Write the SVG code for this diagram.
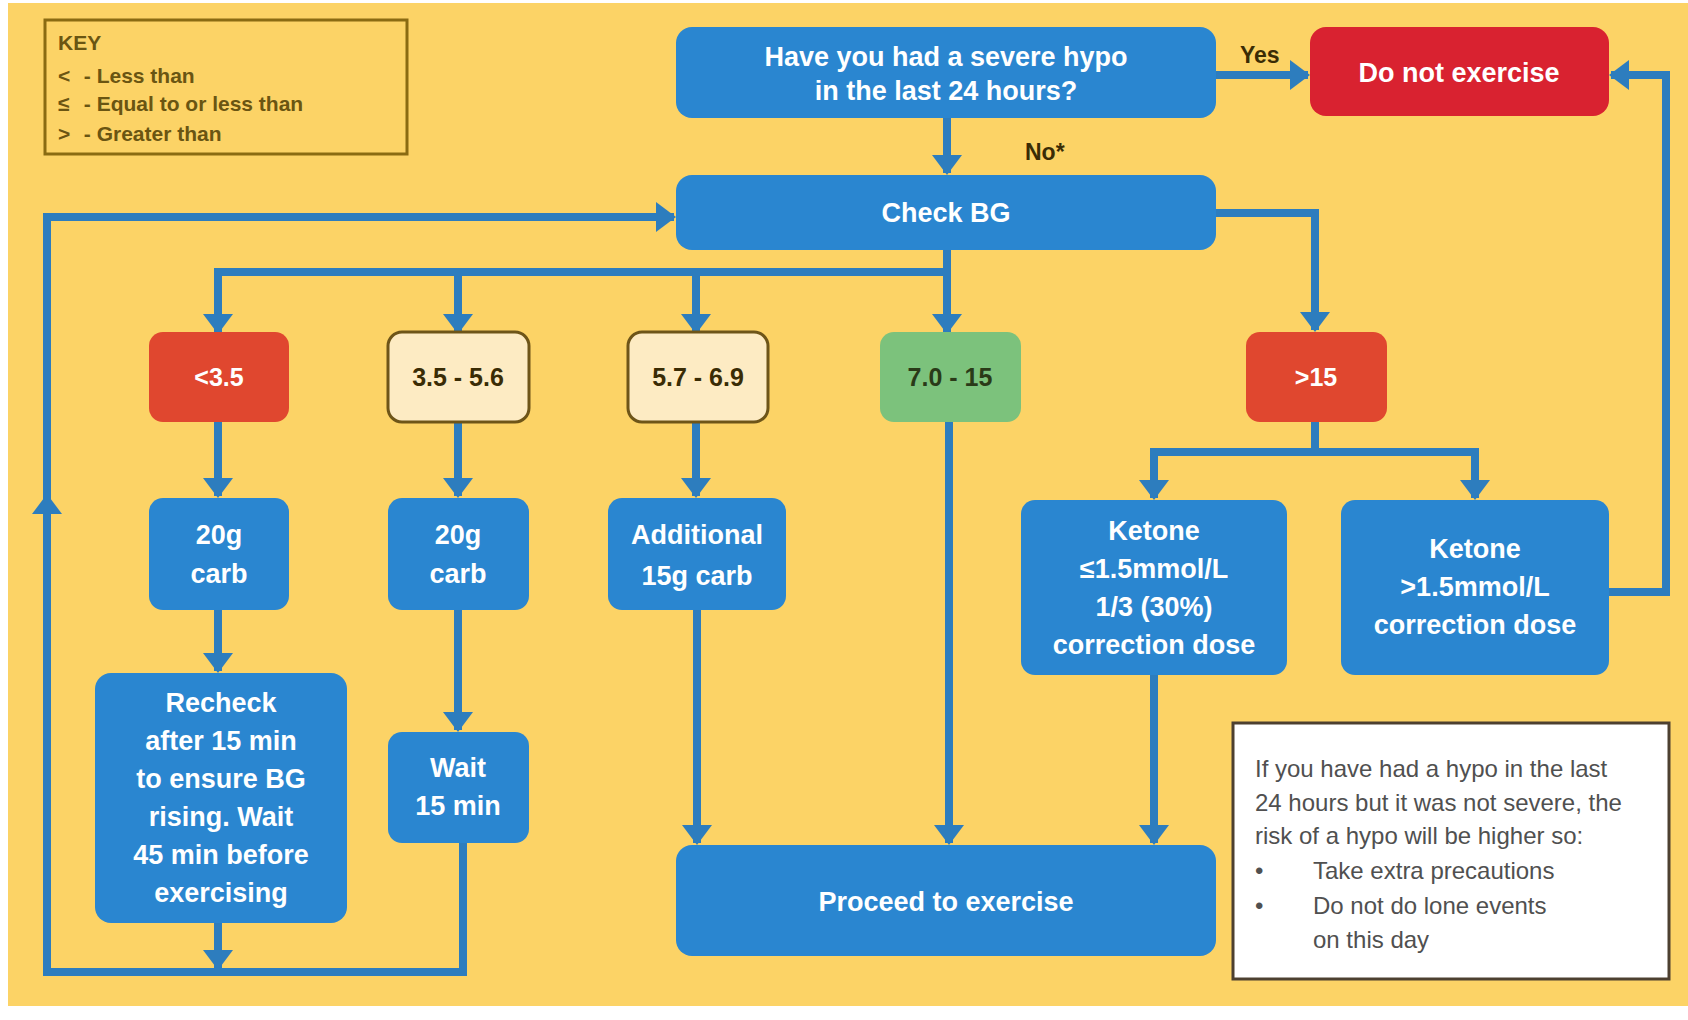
<svg xmlns="http://www.w3.org/2000/svg" width="1688" height="1020" viewBox="0 0 1688 1020">
<defs>
<style>
.bg{fill:#FCD366}
.blue{fill:#2A86D0}
.red{fill:#E0472F}
.dne{fill:#D92230}
.cream{fill:#FDEBC3;stroke:#6E5518;stroke-width:3}
.green{fill:#7CC27C}
.t{font-family:"Liberation Sans",Arial,sans-serif;font-weight:bold;font-size:27px;fill:#FFFFFF;text-anchor:middle}
.rt{font-family:"Liberation Sans",Arial,sans-serif;font-weight:bold;font-size:25px;text-anchor:middle}
.lbl{font-family:"Liberation Sans",Arial,sans-serif;font-weight:bold;font-size:23px;fill:#3A2C05}
.key{font-family:"Liberation Sans",Arial,sans-serif;font-weight:bold;font-size:21px;fill:#6A5512}
.note{font-family:"Liberation Sans",Arial,sans-serif;font-size:24px;fill:#505050}
.c{fill:none;stroke:#2D7DBE;stroke-width:8;stroke-linejoin:miter}
.ca{fill:none;stroke:#2D7DBE;stroke-width:8;marker-end:url(#ah)}
</style>
<marker id="ah" viewBox="0 0 10 10" preserveAspectRatio="none" refX="9" refY="5" markerUnits="userSpaceOnUse" markerWidth="20" markerHeight="30" orient="auto">
<path d="M0,0 L10,5 L0,10 z" fill="#2D7DBE"/>
</marker>
</defs>
<rect x="8" y="3" width="1680" height="1003" class="bg"/>

<g id="key">
<rect x="45" y="20" width="362" height="134" fill="none" stroke="#8A6B12" stroke-width="3"/>
<text class="key" x="58" y="50" font-size="17">KEY</text>
<text class="key" y="83"><tspan x="58">&lt;</tspan><tspan x="78"> - Less than</tspan></text>
<text class="key" y="111"><tspan x="58">≤</tspan><tspan x="78"> - Equal to or less than</tspan></text>
<text class="key" y="141"><tspan x="58">&gt;</tspan><tspan x="78"> - Greater than</tspan></text>
</g>

<g id="connectors">
<path class="ca" d="M947,118 V173"/>
<path class="ca" d="M1216,75 H1308"/>
<path class="c" d="M947,250 V272 M218,272 H951"/>
<path class="ca" d="M218,268 V332"/>
<path class="ca" d="M458,268 V332"/>
<path class="ca" d="M696,268 V332"/>
<path class="ca" d="M947,268 V332"/>
<path class="ca" d="M1216,213 H1315 V330"/>
<path class="ca" d="M218,422 V496"/>
<path class="ca" d="M458,422 V496"/>
<path class="ca" d="M696,422 V496"/>
<path class="ca" d="M949,422 V843"/>
<path class="c" d="M1315,422 V452 M1150,452 H1479"/>
<path class="ca" d="M1154,448 V498"/>
<path class="ca" d="M1475,448 V498"/>
<path class="ca" d="M218,610 V671"/>
<path class="ca" d="M458,610 V730"/>
<path class="ca" d="M697,610 V843"/>
<path class="ca" d="M1154,675 V843"/>
<path class="ca" d="M1609,592 H1666 V75 H1611"/>
<path class="ca" d="M218,923 V968"/>
<path class="ca" d="M463,843 V972 H47 V496"/>
<path class="ca" d="M47,505 V217 H674"/>
<text class="lbl" x="1240" y="63">Yes</text>
<text class="lbl" x="1025" y="160">No*</text>
</g>

<g id="q">
<rect x="676" y="27" width="540" height="91" rx="16" class="blue"/>
<text class="t" x="946" y="66">Have you had a severe hypo</text>
<text class="t" x="946" y="100">in the last 24 hours?</text>
</g>
<g id="dne">
<rect x="1310" y="27" width="299" height="89" rx="16" class="dne"/>
<text class="t" x="1459" y="82">Do not exercise</text>
</g>
<g id="check">
<rect x="676" y="175" width="540" height="75" rx="16" class="blue"/>
<text class="t" x="946" y="222">Check BG</text>
</g>

<g id="r1">
<rect x="149" y="332" width="140" height="90" rx="14" class="red"/>
<text class="rt" x="219" y="386" fill="#FFFFFF">&lt;3.5</text>
</g>
<g id="r2">
<rect x="388" y="332" width="141" height="90" rx="14" class="cream"/>
<text class="rt" x="458" y="386" fill="#3A2C05">3.5 - 5.6</text>
</g>
<g id="r3">
<rect x="628" y="332" width="140" height="90" rx="14" class="cream"/>
<text class="rt" x="698" y="386" fill="#3A2C05">5.7 - 6.9</text>
</g>
<g id="r4">
<rect x="880" y="332" width="141" height="90" rx="14" class="green"/>
<text class="rt" x="950" y="386" fill="#2A3A18">7.0 - 15</text>
</g>
<g id="r5">
<rect x="1246" y="332" width="141" height="90" rx="14" class="red"/>
<text class="rt" x="1316" y="386" fill="#FFFFFF">&gt;15</text>
</g>

<g id="carb1">
<rect x="149" y="498" width="140" height="112" rx="14" class="blue"/>
<text class="t" x="219" y="544">20g</text>
<text class="t" x="219" y="583">carb</text>
</g>
<g id="carb2">
<rect x="388" y="498" width="141" height="112" rx="14" class="blue"/>
<text class="t" x="458" y="544">20g</text>
<text class="t" x="458" y="583">carb</text>
</g>
<g id="add">
<rect x="608" y="498" width="178" height="112" rx="14" class="blue"/>
<text class="t" x="697" y="544">Additional</text>
<text class="t" x="697" y="585">15g carb</text>
</g>
<g id="k1">
<rect x="1021" y="500" width="266" height="175" rx="14" class="blue"/>
<text class="t" x="1154" y="540">Ketone</text>
<text class="t" x="1154" y="578">≤1.5mmol/L</text>
<text class="t" x="1154" y="616">1/3 (30%)</text>
<text class="t" x="1154" y="654">correction dose</text>
</g>
<g id="k2">
<rect x="1341" y="500" width="268" height="175" rx="14" class="blue"/>
<text class="t" x="1475" y="558">Ketone</text>
<text class="t" x="1475" y="596">&gt;1.5mmol/L</text>
<text class="t" x="1475" y="634">correction dose</text>
</g>

<g id="recheck">
<rect x="95" y="673" width="252" height="250" rx="16" class="blue"/>
<text class="t" x="221" y="712">Recheck</text>
<text class="t" x="221" y="750">after 15 min</text>
<text class="t" x="221" y="788">to ensure BG</text>
<text class="t" x="221" y="826">rising. Wait</text>
<text class="t" x="221" y="864">45 min before</text>
<text class="t" x="221" y="902">exercising</text>
</g>
<g id="wait">
<rect x="388" y="732" width="141" height="111" rx="14" class="blue"/>
<text class="t" x="458" y="777">Wait</text>
<text class="t" x="458" y="815">15 min</text>
</g>
<g id="proceed">
<rect x="676" y="845" width="540" height="111" rx="16" class="blue"/>
<text class="t" x="946" y="911">Proceed to exercise</text>
</g>

<g id="note">
<rect x="1233" y="723" width="436" height="256" fill="#FFFFFF" stroke="#4D4030" stroke-width="3"/>
<text class="note" x="1255" y="777">If you have had a hypo in the last</text>
<text class="note" x="1255" y="811">24 hours but it was not severe, the</text>
<text class="note" x="1255" y="844">risk of a hypo will be higher so:</text>
<text class="note" y="879"><tspan x="1255">•</tspan><tspan x="1313">Take extra precautions</tspan></text>
<text class="note" y="914"><tspan x="1255">•</tspan><tspan x="1313">Do not do lone events</tspan></text>
<text class="note" x="1313" y="948">on this day</text>
</g>
</svg>
